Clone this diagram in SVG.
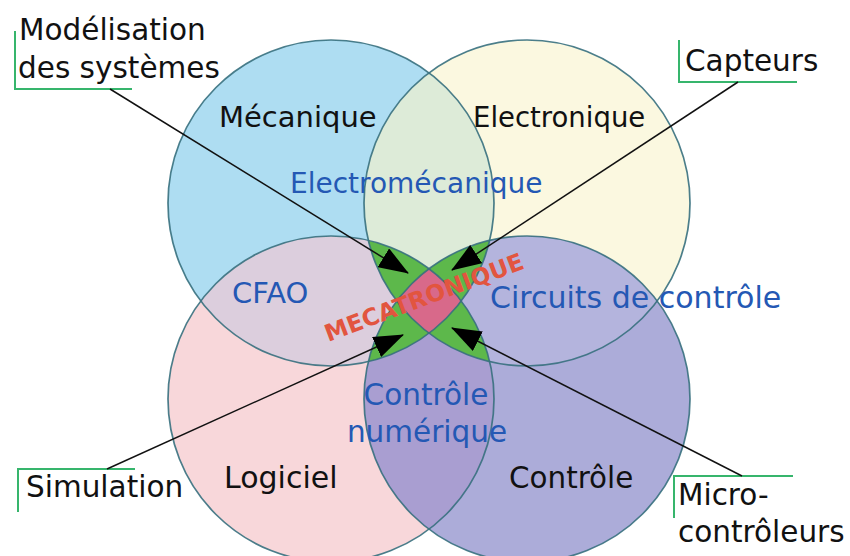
<svg xmlns="http://www.w3.org/2000/svg" width="850" height="556" viewBox="0 0 850 556">
<style>
text{font-family:"DejaVu Sans","Liberation Sans",sans-serif;}
.lbl{font-size:29.5px;fill:#111;}
.dom{fill:#111;}
.mix{fill:#2458B4;}
.ring{fill:none;stroke:#37707E;stroke-width:1.7;stroke-opacity:0.9;}
.brk{fill:none;stroke:#36B56C;stroke-width:2;}
.arr{fill:none;stroke:#111;stroke-width:1.5;marker-end:url(#ah);}
.g3{fill:#5DB84B;}
</style>
<defs>
<clipPath id="kA"><circle cx="331" cy="203" r="163"/></clipPath>
<clipPath id="kB"><circle cx="527" cy="203" r="163"/></clipPath>
<clipPath id="kC"><circle cx="331" cy="399" r="163"/></clipPath>
<clipPath id="kD"><circle cx="527" cy="399" r="163"/></clipPath>
<marker id="ah" markerUnits="userSpaceOnUse" markerWidth="30" markerHeight="22" refX="29" refY="11" orient="auto">
<path d="M0,0 L30,11 L0,22 Z" fill="#000"/>
</marker>
</defs>
<rect width="850" height="556" fill="#fff"/>
<g id="fills">
<circle cx="331" cy="203" r="163" fill="#AEDDF2"/>
<circle cx="527" cy="203" r="163" fill="#FBF8E0"/>
<circle cx="331" cy="399" r="163" fill="#F8D7DA"/>
<circle cx="527" cy="399" r="163" fill="#ACACD9"/>
<g clip-path="url(#kA)"><circle cx="527" cy="203" r="163" fill="#DDEBD8"/><circle cx="331" cy="399" r="163" fill="#DCCEDD"/><circle cx="527" cy="399" r="163" fill="#C8B8DA"/></g>
<g clip-path="url(#kB)"><circle cx="527" cy="399" r="163" fill="#B4B4DD"/><circle cx="331" cy="399" r="163" fill="#C8B8DA"/></g>
<g clip-path="url(#kC)"><circle cx="527" cy="399" r="163" fill="#A99ED1"/></g>
<g clip-path="url(#kA)"><g clip-path="url(#kB)"><circle class="g3" cx="331" cy="399" r="163"/><circle class="g3" cx="527" cy="399" r="163"/></g></g>
<g clip-path="url(#kC)"><g clip-path="url(#kD)"><circle class="g3" cx="331" cy="203" r="163"/><circle class="g3" cx="527" cy="203" r="163"/></g></g>
<g clip-path="url(#kA)"><g clip-path="url(#kB)"><g clip-path="url(#kC)"><circle cx="527" cy="399" r="163" fill="#D8698A"/></g></g></g>
</g>
<g id="mecanique"><circle class="ring" cx="331" cy="203" r="163"/><text class="dom" x="219" y="127" font-size="29">Mécanique</text></g>
<g id="electronique"><circle class="ring" cx="527" cy="203" r="163"/><text class="dom" x="473" y="127" font-size="27.5">Electronique</text></g>
<g id="logiciel"><circle class="ring" cx="331" cy="399" r="163"/><text class="dom" x="224" y="488" font-size="30">Logiciel</text></g>
<g id="controle"><circle class="ring" cx="527" cy="399" r="163"/><text class="dom" x="509" y="488" font-size="29.4">Contrôle</text></g>
<g id="electromecanique"><text class="mix" x="290" y="193" font-size="28">Electromécanique</text></g>
<g id="cfao"><text class="mix" x="232" y="303" font-size="29">CFAO</text></g>
<g id="circuits"><text class="mix" x="490" y="308" font-size="30">Circuits de contrôle</text></g>
<g id="controle-numerique"><text class="mix" x="426" y="405" font-size="29.5" text-anchor="middle">Contrôle</text><text class="mix" x="427" y="442" font-size="29.5" text-anchor="middle">numérique</text></g>
<g id="mecatronique"><text x="427" y="305" font-size="23.5" font-weight="bold" fill="#E2553F" text-anchor="middle" transform="rotate(-20.5 427 305)">MECATRONIQUE</text></g>
<g id="modelisation"><path class="brk" d="M15,31 V89 H132"/><text class="lbl" x="19" y="40">Modélisation</text><text class="lbl" x="18" y="78">des systèmes</text></g>
<g id="capteurs"><path class="brk" d="M679,40 V82 H797"/><text class="lbl" x="685" y="71">Capteurs</text></g>
<g id="simulation"><path class="brk" d="M18,512 V469 H135"/><text class="lbl" x="26" y="497">Simulation</text></g>
<g id="microcontroleurs"><path class="brk" d="M674,518 V476 H793"/><text class="lbl" x="678" y="505">Micro-</text><text class="lbl" x="678" y="542">contrôleurs</text></g>
<g id="connectors">
<line class="arr" x1="110" y1="89" x2="408" y2="273"/>
<line class="arr" x1="738" y1="82" x2="452" y2="270"/>
<line class="arr" x1="107" y1="469" x2="403" y2="335"/>
<line class="arr" x1="742" y1="476" x2="452" y2="328"/>
</g>
</svg>
